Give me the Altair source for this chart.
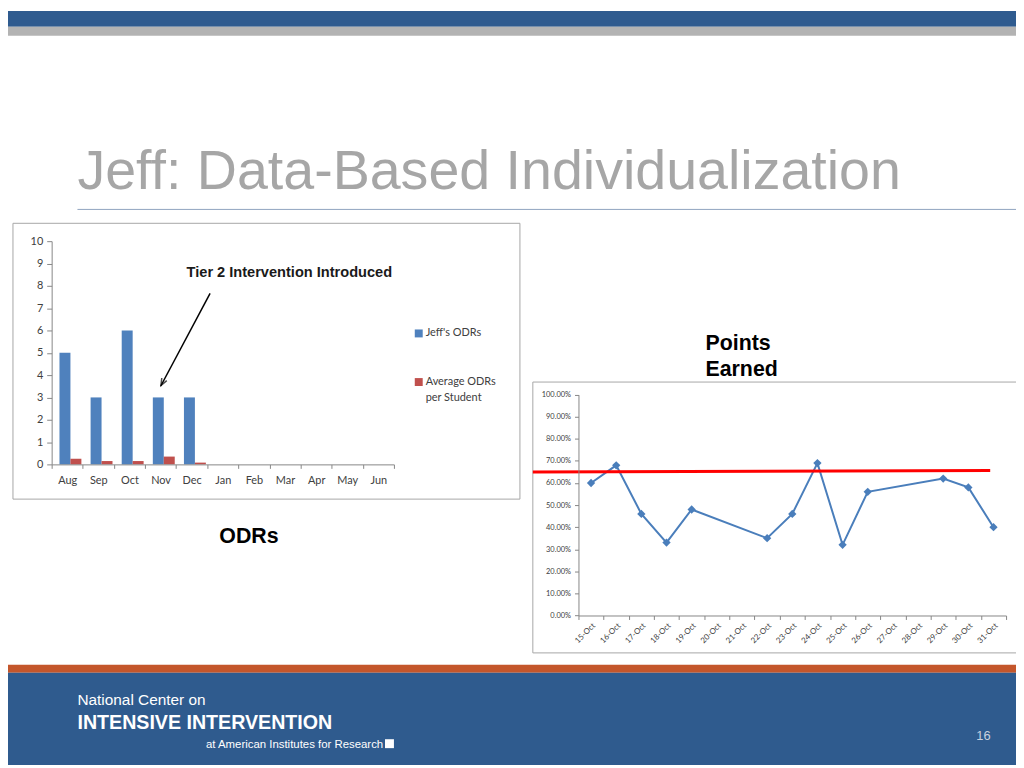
import altair as alt
import pandas as pd

# ---------------- data ----------------
months = ["Aug", "Sep", "Oct", "Nov", "Dec", "Jan", "Feb", "Mar", "Apr", "May", "Jun"]
jeff_odrs = [5, 3, 6, 3, 3, None, None, None, None, None, None]
avg_odrs = [0.25, 0.15, 0.15, 0.35, 0.08, None, None, None, None, None, None]
series_names = ["Jeff's ODRs", "Average ODRs per Student"]
series_colors = ["#4f81bd", "#c0504d"]
odr_ticks = [0, 1, 2, 3, 4, 5, 6, 7, 8, 9, 10]

dates = ["15-Oct", "16-Oct", "17-Oct", "18-Oct", "19-Oct", "20-Oct", "21-Oct",
         "22-Oct", "23-Oct", "24-Oct", "25-Oct", "26-Oct", "27-Oct", "28-Oct",
         "29-Oct", "30-Oct", "31-Oct"]
points_earned = [0.60, 0.68, 0.46, 0.33, 0.48, None, None, 0.35, 0.46, 0.69,
                 0.32, 0.56, None, None, 0.62, 0.58, 0.40]
goal_line = [0.65, 0.657]
pct_ticks = [0.0, 0.1, 0.2, 0.3, 0.4, 0.5, 0.6, 0.7, 0.8, 0.9, 1.0]

# ---------------- tables ----------------
bar_rows = []
for m, j, a in zip(months, jeff_odrs, avg_odrs):
    if j is not None:
        bar_rows.append({"month": m, "series": series_names[0], "value": j})
    if a is not None:
        bar_rows.append({"month": m, "series": series_names[1], "value": a})
bar_df = pd.DataFrame(bar_rows)

line_df = pd.DataFrame([{"date": d, "pct": p} for d, p in zip(dates, points_earned) if p is not None])
one = pd.DataFrame({"k": [0]})

W, H = 1016, 760
SANS = "Liberation Sans"
CAL = "Lato"


def rect(x1, y1, x2, y2, fill, stroke=None, sw=1, opacity=1.0):
    kw = dict(fill=fill, fillOpacity=opacity)
    if stroke:
        kw.update(stroke=stroke, strokeWidth=sw)
    return alt.Chart(one).mark_rect(**kw).encode(
        x=alt.value(x1), x2=alt.value(x2), y=alt.value(y1), y2=alt.value(y2))


def text(t, x, y, size, color, font=SANS, weight="normal", align="left", baseline="alphabetic"):
    return alt.Chart(one).mark_text(
        text=t, fontSize=size, color=color, font=font, fontWeight=weight,
        align=align, baseline=baseline).encode(x=alt.value(x), y=alt.value(y))


decor = [
    # header bands
    rect(0, 0, W, 16, "#2f5b8f"),
    rect(0, 16, W, 25, "#b3b3b3"),
    text("Jeff: Data-Based Individualization", 70, 179, 56, "#a6a6a6"),
    alt.Chart(one).mark_rule(color="#8fa3be", strokeWidth=1).encode(
        x=alt.value(70), x2=alt.value(W), y=alt.value(200)),
    # chart frames
    rect(5, 214, 516, 492, "white", stroke="#a6a6a6", sw=1, opacity=0),
    rect(529, 374, 1030, 647, "white", stroke="#a6a6a6", sw=1, opacity=0),
    # labels
    text("ODRs", 213, 536, 21.5, "#000000", weight="bold"),
    text("Points", 703, 342, 21.5, "#000000", weight="bold"),
    text("Earned", 703, 368, 21.5, "#000000", weight="bold"),
    # annotation
    text("Tier 2 Intervention Introduced", 180, 268, 14.7, "#1a1a1a", weight="bold"),
    alt.Chart(one).mark_rule(color="#000000", strokeWidth=1.5).encode(
        x=alt.value(203.7), x2=alt.value(154), y=alt.value(284.7), y2=alt.value(378)),
    alt.Chart(one).mark_point(shape="M -0.6 0.9 L 0 -0.6 L 0.6 0.9", filled=False,
                              stroke="#000000", strokeWidth=1.5, size=90, angle=208).encode(
        x=alt.value(155.5), y=alt.value(375)),
    # legend
    rect(410, 321, 418, 329, series_colors[0]),
    text("Jeff's ODRs", 421, 325, 11, "#404040", font=CAL, baseline="middle"),
    rect(410, 370, 418, 378, series_colors[1]),
    text("Average ODRs", 421, 374, 11, "#404040", font=CAL, baseline="middle"),
    text("per Student", 421, 390, 11, "#404040", font=CAL, baseline="middle"),
    # footer
    rect(0, 659, W, 667, "#c4562b"),
    rect(0, 667, W, H, "#2f5b8e"),
    text("National Center on", 70, 700, 15.5, "#ffffff"),
    text("INTENSIVE INTERVENTION", 70, 723.5, 19.8, "#ffffff", weight="bold"),
    text("at American Institutes for Research", 199.5, 742.7, 11.5, "#ffffff"),
    rect(380, 734, 389, 743, "#ffffff"),
    text("16", 976, 735, 13, "#c9d2de"),
]

axis_common = dict(title=None, grid=False, domainColor="#868686", tickColor="#868686",
                   labelColor="#404040", labelFont=CAL, zindex=1)

bars = alt.Chart(bar_df).mark_bar().encode(
    x=alt.X("month:N",
            scale=alt.Scale(domain=months, range=[44, 389], paddingInner=0, paddingOuter=0),
            axis=alt.Axis(orient="bottom", offset=457 - H, labelAngle=0, tickBand="extent",
                          tickSize=4, labelPadding=6, labelFontSize=11, **axis_common)),
    xOffset=alt.XOffset("series:N",
                        scale=alt.Scale(domain=series_names, paddingInner=0,
                                        paddingOuter=0.42, align=0.85)),
    y=alt.Y("value:Q",
            scale=alt.Scale(domain=[0, 10], range=[457, 232], nice=False, zero=True),
            axis=alt.Axis(orient="left", offset=-44, values=odr_ticks, tickSize=5,
                          labelPadding=4, labelFontSize=11, **axis_common)),
    color=alt.Color("series:N", scale=alt.Scale(domain=series_names, range=series_colors),
                    legend=None),
)

lx = alt.X("date:N",
           scale=alt.Scale(type="band", domain=dates, range=[575, 1006],
                           paddingInner=0, paddingOuter=0),
           axis=alt.Axis(orient="bottom", offset=609.3 - H, labelAngle=315, tickBand="extent",
                         tickSize=4, labelPadding=2, labelFontSize=8, **axis_common))
ly = alt.Y("pct:Q",
           scale=alt.Scale(domain=[0, 1], range=[609.3, 386.7], nice=False),
           axis=alt.Axis(orient="left", offset=-575, values=pct_ticks, format=".2%",
                         tickSize=4, labelPadding=4, labelFontSize=7.5, **axis_common))

line = alt.Chart(line_df).mark_line(color="#4a7ebb", strokeWidth=2).encode(x=lx, y=ly)
pts = alt.Chart(line_df).mark_point(shape="diamond", filled=True, color="#4a7ebb",
                                    size=70, opacity=1).encode(x=lx, y=ly)
goal = alt.Chart(one).mark_rule(color="#ff0000", strokeWidth=3).encode(
    x=alt.value(529), x2=alt.value(990),
    y=alt.datum(goal_line[0]), y2=alt.datum(goal_line[1]))
line_chart = alt.layer(line, pts, goal)

chart = alt.layer(*decor, bars, line_chart).resolve_scale(
    x="independent", y="independent", color="independent"
).properties(
    width=W, height=H, autosize=alt.AutoSizeParams(type="none"), padding=0, background="white"
).configure_view(stroke=None)

chart.save("out.html", embed_options={"renderer": "svg", "actions": False})
